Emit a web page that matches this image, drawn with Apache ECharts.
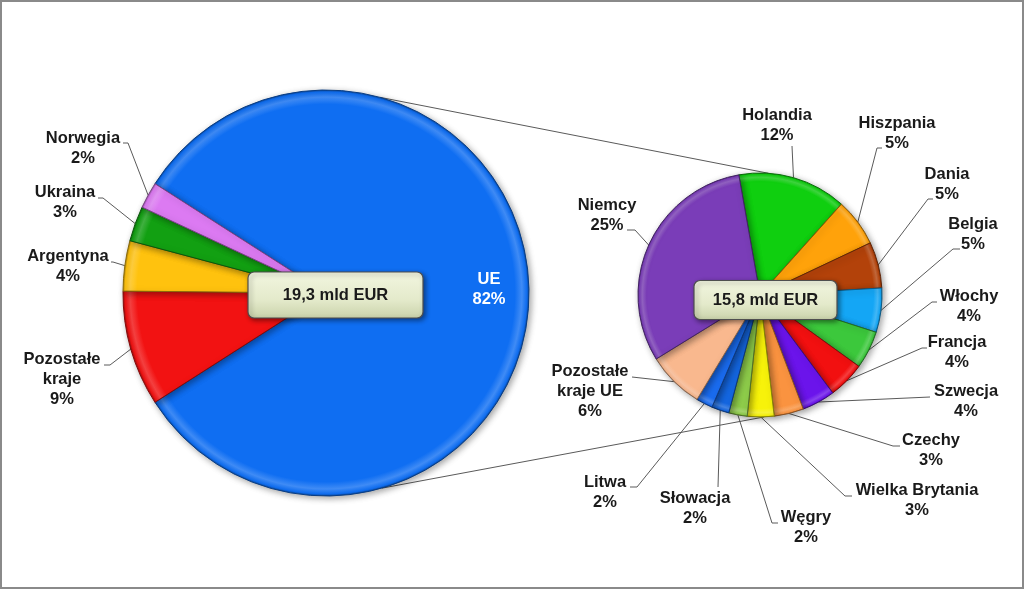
<!DOCTYPE html>
<html><head><meta charset="utf-8">
<script src="https://cdn.jsdelivr.net/npm/echarts@6/dist/echarts.min.js"></script>
<style>html,body{margin:0;padding:0;background:#fff}#c{width:1024px;height:589px}</style>
</head><body><div id="c"></div>
<script>
// ---- data ----
const leftNames = ['UE', 'Pozostałe kraje', 'Argentyna', 'Ukraina', 'Norwegia'];
const leftValues = [81.9, 9.2, 4.0, 2.8, 2.1];
const rightNames = ['Holandia', 'Hiszpania', 'Dania', 'Belgia', 'Włochy', 'Francja', 'Szwecja', 'Czechy',
  'Wielka Brytania', 'Węgry', 'Słowacja', 'Litwa', 'Pozostałe kraje UE', 'Niemcy'];
const rightValues = [11.8, 5.2, 5.0, 4.8, 4.1, 4.0, 3.6, 3.2, 2.9, 2.0, 1.9, 1.8, 6.2, 25.4];
const totalLabels = ['19,3 mld EUR', '15,8 mld EUR'];

// ---- styles ----
const leftColors = ['#0F6EF2', '#F21212', '#FFC20E', '#12A012', '#DC7AF2'];
const rightColors = ['#0FCF0F', '#FFA20A', '#B3420A', '#14A6F5', '#3CC83C', '#F21010', '#6B14EB', '#FA9340',
  '#F7F20A', '#8ECC4A', '#1466E0', '#1A6CF0', '#F9B88E', '#7A3DB8'];
const FONT = "'Liberation Sans', Arial, sans-serif";
const LP = { cx: 326, cy: 293, r: 203 };
const RP = { cx: 760, cy: 295, r: 122 };

// label placement (text block centres, elbow and end of leader)
const leftLabelPos = {
  'UE': { x: 489, y: 289 },
  'Norwegia': { x: 83, y: 148, line: [[128, 143], [123, 143]] },
  'Ukraina': { x: 65, y: 202, line: [[103, 198], [98, 198]] },
  'Argentyna': { x: 68, y: 266, line: [[113, 262], [111, 262]] },
  'Pozostałe kraje': { x: 62, y: 379, line: [[110, 365], [104, 365]] }
};
const rightLabelPos = {
  'Holandia': { x: 777, y: 125, line: [[792, 146], [792, 146]] },
  'Hiszpania': { x: 897, y: 133, line: [[877, 148], [882, 148]] },
  'Dania': { x: 947, y: 184, line: [[928, 199], [933, 199]] },
  'Belgia': { x: 973, y: 234, line: [[953, 249], [960, 249]] },
  'Włochy': { x: 969, y: 306, line: [[932, 302], [937, 302]] },
  'Francja': { x: 957, y: 352, line: [[922, 348], [927, 348]] },
  'Szwecja': { x: 966, y: 401, line: [[930, 397], [930, 397]] },
  'Czechy': { x: 931, y: 450, line: [[893, 446], [900, 446]] },
  'Wielka Brytania': { x: 917, y: 500, line: [[845, 496], [852, 496]] },
  'Węgry': { x: 806, y: 527, line: [[772, 523], [778, 523]] },
  'Słowacja': { x: 695, y: 508, line: [[718, 487], [718, 487]] },
  'Litwa': { x: 605, y: 492, line: [[637, 487], [630, 487]] },
  'Pozostałe kraje UE': { x: 590, y: 391, line: [[632, 377], [632, 377]] },
  'Niemcy': { x: 607, y: 215, line: [[635, 230], [627, 230]] }
};

function hexToRgb(h) { const n = parseInt(h.slice(1), 16); return [(n >> 16) & 255, (n >> 8) & 255, n & 255]; }
function mix(h, t, k) { const a = hexToRgb(h); return 'rgb(' + a.map(v => Math.round(v + (t - v) * k)).join(',') + ')'; }
function bevel(c, g) {
  return {
    type: 'radial', x: g.cx, y: g.cy, r: g.r, global: true,
    colorStops: [
      { offset: 0, color: c }, { offset: 0.93, color: c },
      { offset: 0.965, color: mix(c, 255, 0.2) }, { offset: 0.99, color: c },
      { offset: 1, color: mix(c, 0, 0.35) }
    ]
  };
}
function fmt(p) { return p.name.replace('Pozostałe ', 'Pozostałe\n') + '\n' + Math.round(p.value) + '%'; }
function makeLayout(names, pos) {
  return function (params) {
    const o = pos[names[params.dataIndex]];
    const res = { x: o.x, y: o.y, align: 'center', verticalAlign: 'middle', hideOverlap: false };
    if (o.line && params.labelLinePoints) res.labelLinePoints = [params.labelLinePoints[0], o.line[0], o.line[1]];
    return res;
  };
}

const leftTotal = leftValues.reduce((a, b) => a + b, 0);
const leftStart = 180 - (leftTotal - leftValues[0]) / leftTotal * 180;

const labelBase = { show: true, position: 'outside', formatter: fmt, fontFamily: FONT, fontWeight: 'bold',
  fontSize: 16.5, lineHeight: 20, color: '#1a1a1a', align: 'center' };
const lineBase = { show: true, length: 10, length2: 5, lineStyle: { color: '#5a5a5a', width: 1 } };
const itemBase = { borderWidth: 1, shadowBlur: 6, shadowColor: 'rgba(0,0,0,0.35)', shadowOffsetX: 2, shadowOffsetY: 2 };

function pt(g, deg) { const a = deg * Math.PI / 180; return [g.cx + g.r * Math.cos(a), g.cy - g.r * Math.sin(a)]; }
const t1 = pt(LP, 74.5), t2 = pt(RP, 86), b1 = pt(LP, -74), b2 = pt(RP, -88);

function box(g, w, h, dx, dy, text) {
  const x0 = g.cx + dx - w / 2, y0 = g.cy + dy - h / 2;
  return [
    { type: 'rect', z: 100, silent: true, shape: { x: x0, y: y0, width: w, height: h, r: 6 },
      style: { fill: { type: 'linear', x: 0, y: 0, x2: 0, y2: 1, colorStops: [
        { offset: 0, color: '#F2F6E0' }, { offset: 0.6, color: '#E4EACB' }, { offset: 1, color: '#C9D2AA' }] },
        stroke: '#4f4f4f', lineWidth: 1.2, shadowBlur: 5, shadowColor: 'rgba(0,0,0,0.45)', shadowOffsetX: 2, shadowOffsetY: 2 } },
    { type: 'text', z: 101, silent: true, x: x0 + w / 2, y: y0 + h / 2,
      style: { text: text, align: 'center', verticalAlign: 'middle', fontSize: 16.5, fontWeight: 'bold', fontFamily: FONT, fill: '#1a1a1a' } }
  ];
}

const chart = echarts.init(document.getElementById('c'), null, { renderer: 'canvas' });
chart.setOption({
  animation: false,
  backgroundColor: '#ffffff',
  graphic: [
    { type: 'rect', z: 0, silent: true, shape: { x: 1, y: 1, width: 1022, height: 587 }, style: { fill: 'none', stroke: '#8a8a8a', lineWidth: 2 } },
    { type: 'line', z: 1, silent: true, shape: { x1: t1[0], y1: t1[1], x2: t2[0], y2: t2[1] }, style: { stroke: '#5a5a5a', lineWidth: 1 } },
    { type: 'line', z: 1, silent: true, shape: { x1: b1[0], y1: b1[1], x2: b2[0], y2: b2[1] }, style: { stroke: '#5a5a5a', lineWidth: 1 } }
  ].concat(box(LP, 175, 46, 9.5, 2, totalLabels[0]), box(RP, 143, 39, 5.5, 5, totalLabels[1])),
  series: [
    {
      type: 'pie', center: [LP.cx, LP.cy], radius: LP.r, startAngle: leftStart, clockwise: true,
      avoidLabelOverlap: false, silent: true, emphasis: { disabled: true },
      label: labelBase, labelLine: lineBase,
      labelLayout: makeLayout(leftNames, leftLabelPos),
      data: leftNames.map((n, i) => ({
        name: n, value: leftValues[i],
        itemStyle: Object.assign({}, itemBase, { color: bevel(leftColors[i], LP), borderColor: mix(leftColors[i], 0, 0.45) }),
        label: i === 0 ? { position: 'inside', color: '#ffffff' } : undefined
      }))
    },
    {
      type: 'pie', center: [RP.cx, RP.cy], radius: RP.r, startAngle: 100, clockwise: true,
      avoidLabelOverlap: false, silent: true, emphasis: { disabled: true },
      label: labelBase, labelLine: lineBase,
      labelLayout: makeLayout(rightNames, rightLabelPos),
      data: rightNames.map((n, i) => ({
        name: n, value: rightValues[i],
        itemStyle: Object.assign({}, itemBase, { color: bevel(rightColors[i], RP), borderColor: mix(rightColors[i], 0, 0.45) })
      }))
    }
  ]
});
</script>
</body></html>
